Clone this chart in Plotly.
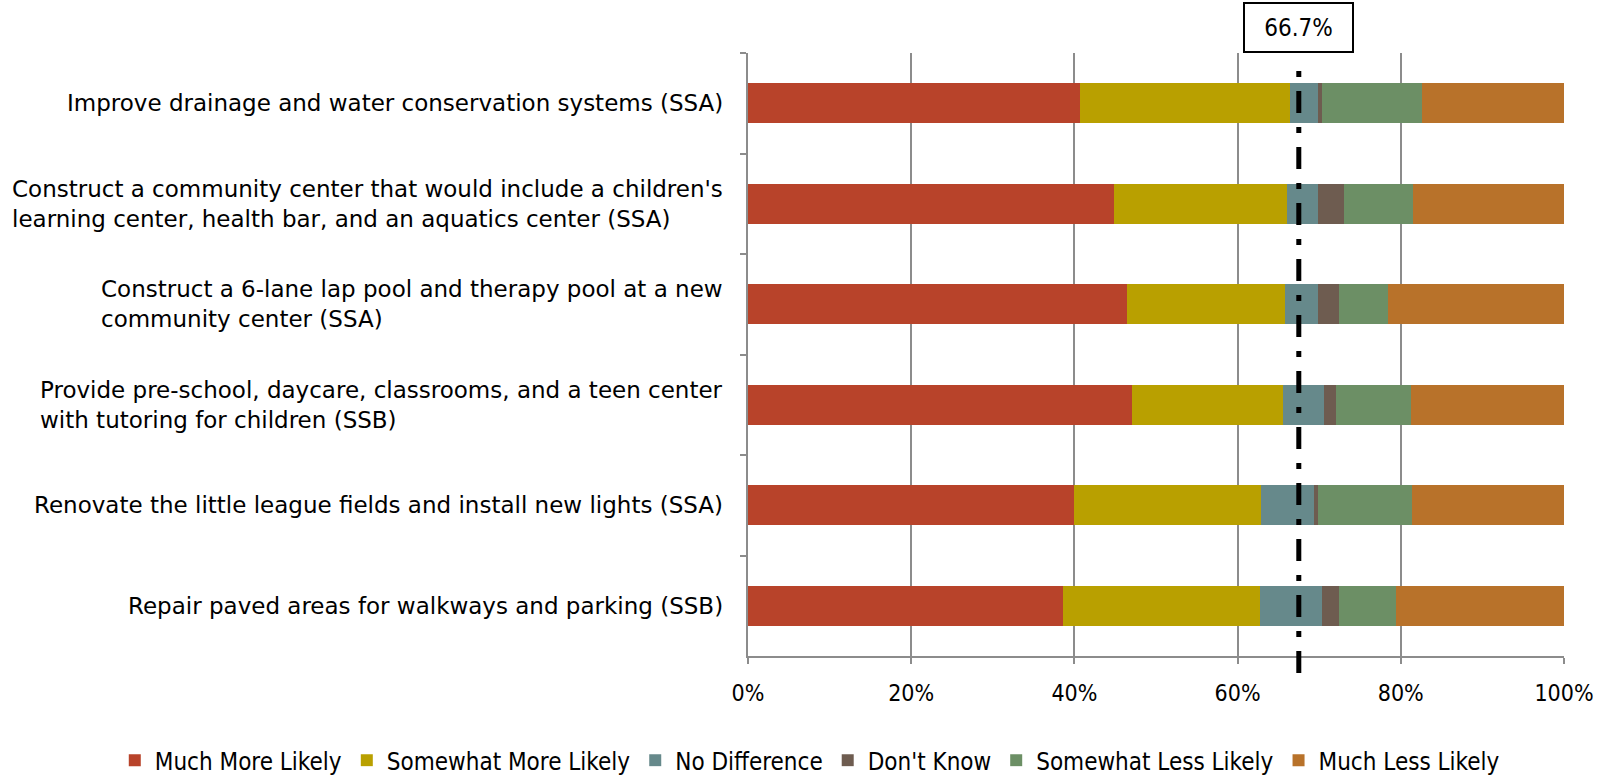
import plotly.graph_objects as go

categories = [
    "Improve drainage and water conservation systems (SSA)",
    "Construct a community center that would include a children's<br>learning center, health bar, and an aquatics center (SSA)",
    "Construct a 6-lane lap pool and therapy pool at a new<br>community center (SSA)",
    "Provide pre-school, daycare, classrooms, and a teen center<br>with tutoring for children (SSB)",
    "Renovate the little league fields and install new lights (SSA)",
    "Repair paved areas for walkways and parking (SSB)",
]
series_names = ["Much More Likely", "Somewhat More Likely", "No Difference",
                "Don't Know", "Somewhat Less Likely", "Much Less Likely"]
much_more = [40.7, 44.9, 46.4, 47.0, 40.0, 38.6]
somewhat_more = [25.7, 21.1, 19.4, 18.6, 22.9, 24.1]
no_difference = [3.4, 3.9, 4.0, 5.0, 6.5, 7.7]
dont_know = [0.6, 3.1, 2.6, 1.4, 0.5, 2.0]
somewhat_less = [12.2, 8.5, 6.0, 9.3, 11.5, 7.0]
much_less = [17.4, 18.5, 21.6, 18.7, 18.6, 20.6]
series_values = [much_more, somewhat_more, no_difference, dont_know, somewhat_less, much_less]
colors = ["#B8432A", "#B9A000", "#66898B", "#6E5C50", "#6C8F65", "#B8722A"]

threshold_label = "66.7%"
threshold_x = 67.5
x_ticks = [0, 20, 40, 60, 80, 100]

cond_font = "DejaVu Sans Condensed, Liberation Sans Narrow, sans-serif"
label_font = "DejaVu Sans, sans-serif"

fig = go.Figure()
for name, vals, col in zip(series_names, series_values, colors):
    fig.add_trace(go.Bar(
        y=categories, x=vals, name=name, orientation="h",
        marker=dict(color=col, line=dict(width=0)),
    ))

for cat in categories:
    fig.add_annotation(
        x=0, xref="paper", y=cat, yref="y", text=cat,
        xanchor="right", yanchor="middle", align="left", xshift=-23,
        showarrow=False, font=dict(family=label_font, size=23, color="#000000"),
    )

fig.add_shape(
    type="line", xref="x", yref="paper", x0=threshold_x, x1=threshold_x,
    y0=-0.028, y1=0.982,
    line=dict(color="#000000", width=5, dash="22px,14px,6px,14px"),
)
fig.add_annotation(
    x=threshold_x, xref="x", y=1, yref="paper", yanchor="bottom", yshift=0,
    text=threshold_label, showarrow=False,
    font=dict(family=cond_font, size=24, color="#000000"),
    bordercolor="#000000", borderwidth=2, borderpad=0, bgcolor="#FFFFFF",
    width=107, height=47,
)

fig.update_layout(
    width=1601, height=776,
    margin=dict(l=748, r=37, t=53, b=120, autoexpand=False),
    barmode="stack", bargap=0.6,
    plot_bgcolor="#FFFFFF", paper_bgcolor="#FFFFFF",
    showlegend=True,
    legend=dict(
        orientation="h",
        x=-0.776, xanchor="left", y=-0.1734, yanchor="middle",
        font=dict(family=cond_font, size=24, color="#000000"),
        itemwidth=30, traceorder="normal",
    ),
    xaxis=dict(
        range=[0, 100], tickvals=x_ticks, ticktext=[f"{t}%" for t in x_ticks],
        showgrid=True, gridcolor="#8C8C8C", gridwidth=1.5,
        showline=True, linecolor="#8C8C8C", linewidth=2,
        ticks="outside", ticklen=6, tickcolor="#8C8C8C", tickwidth=1.5,
        ticklabelstandoff=9,
        tickfont=dict(family=cond_font, size=23, color="#000000"),
        zeroline=False, fixedrange=True,
    ),
    yaxis=dict(
        categoryorder="array", categoryarray=categories, autorange="reversed",
        showticklabels=False, showgrid=False,
        showline=True, linecolor="#8C8C8C", linewidth=2,
        ticks="outside", tickson="boundaries", ticklen=6, tickcolor="#8C8C8C", tickwidth=1.5,
        zeroline=False,
    ),
)

fig.write_html("out.html", config={"displayModeBar": False},
               post_script="document.body.style.margin='0';")
